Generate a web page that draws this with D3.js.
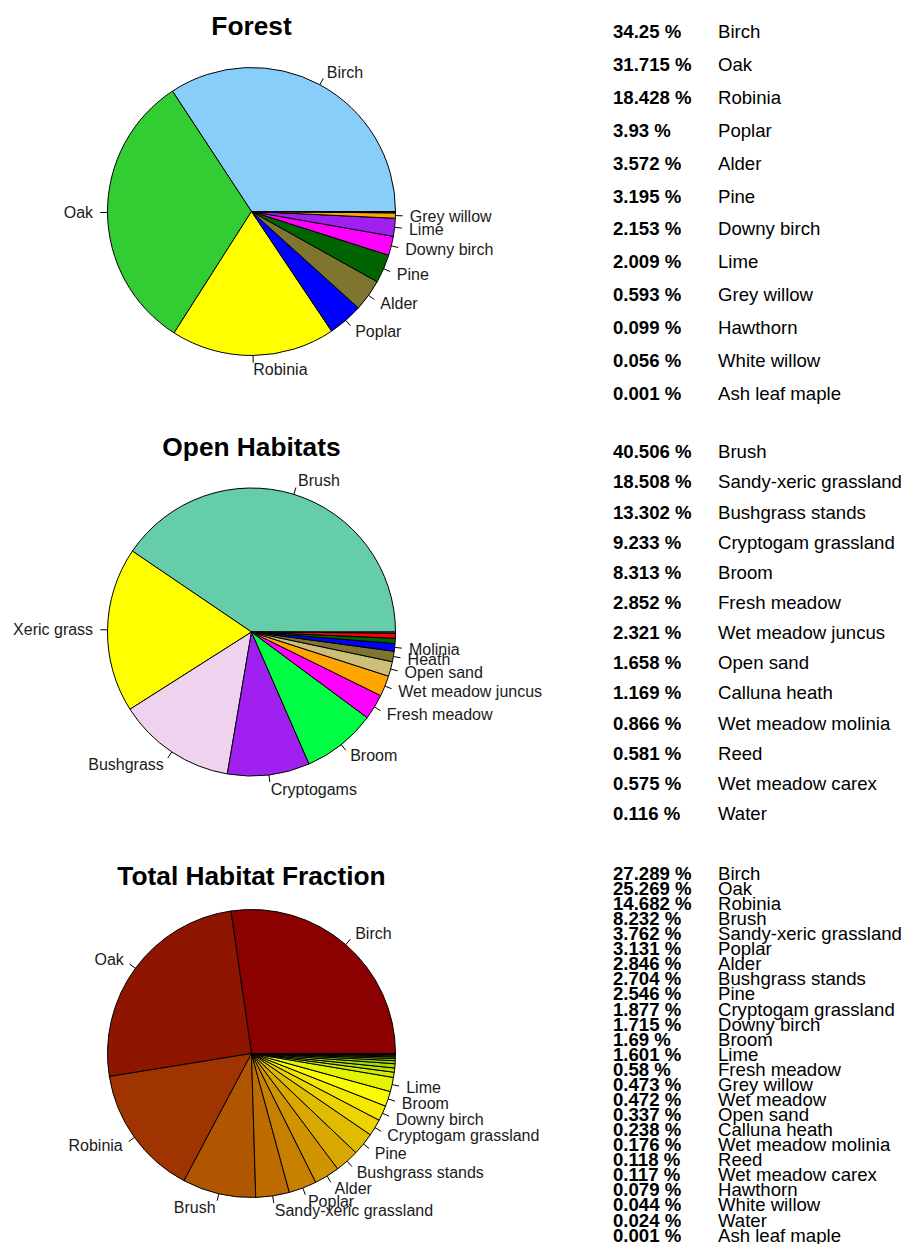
<!DOCTYPE html>
<html>
<head>
<meta charset="utf-8">
<script src="https://cdn.jsdelivr.net/npm/d3@7"></script>
<style>
  html, body { margin: 0; padding: 0; background: #ffffff; }
  svg { display: block; font-family: "Liberation Sans", Arial, Helvetica, sans-serif; }
</style>
</head>
<body>
<svg id="chart" width="904" height="1244"></svg>
<script>
// ---------------- DATA ----------------
// Forest
const forestNames = ["Birch","Oak","Robinia","Poplar","Alder","Pine","Downy birch","Lime","Grey willow","Hawthorn","White willow","Ash leaf maple"];
const forestValues = [34.25,31.715,18.428,3.93,3.572,3.195,2.153,2.009,0.593,0.099,0.056,0.001];
const forestPieLabels = ["Birch","Oak","Robinia","Poplar","Alder","Pine","Downy birch","Lime","Grey willow","","",""];
const forestColors = ["#87CEFA","#32CD32","#FFFF00","#0000FF","#7D7530","#006400","#FF00FF","#A020F0","#FFA500","#8B4513","#00CED1","#808080"];

// Open habitats
const openNames = ["Brush","Sandy-xeric grassland","Bushgrass stands","Cryptogam grassland","Broom","Fresh meadow","Wet meadow juncus","Open sand","Calluna heath","Wet meadow molinia","Reed","Wet meadow carex","Water"];
const openValues = [40.506,18.508,13.302,9.233,8.313,2.852,2.321,1.658,1.169,0.866,0.581,0.575,0.116];
const openPieLabels = ["Brush","Xeric grass","Bushgrass","Cryptogams","Broom","Fresh meadow","Wet meadow juncus","Open sand","Heath","Molinia","","",""];
const openColors = ["#66CDAA","#FFFF00","#EED2EE","#A020F0","#00FF44","#FF00FF","#FFA500","#CDBF7A","#7D7530","#0000FF","#006400","#FF0000","#00BFFF"];

// Total habitat fraction
const totalNames = ["Birch","Oak","Robinia","Brush","Sandy-xeric grassland","Poplar","Alder","Bushgrass stands","Pine","Cryptogam grassland","Downy birch","Broom","Lime","Fresh meadow","Grey willow","Wet meadow","Open sand","Calluna heath","Wet meadow molinia","Reed","Wet meadow carex","Hawthorn","White willow","Water","Ash leaf maple"];
const totalValues = [27.289,25.269,14.682,8.232,3.762,3.131,2.846,2.704,2.546,1.877,1.715,1.69,1.601,0.58,0.473,0.472,0.337,0.238,0.176,0.118,0.117,0.079,0.044,0.024,0.001];
const totalPieLabels = ["Birch","Oak","Robinia","Brush","Sandy-xeric grassland","Poplar","Alder","Bushgrass stands","Pine","Cryptogam grassland","Downy birch","Broom","Lime","","","","","","","","","","","",""];
const totalColors = ["#8B0000","#8E1600","#A03400","#B05600","#BE6C00","#C88000","#D09400","#D8A800","#E0BC00","#ECD400","#F4E800","#FCFC00","#E4F400","#D0EC00","#BCE400","#A8DC00","#98D400","#88CC00","#78C400","#6CBC00","#60B400","#54AC00","#48A400","#3C9C00","#309400"];

// Panel titles
const titles = ["Forest","Open Habitats","Total Habitat Fraction"];

// ---------------- DRAW ----------------
const svg = d3.select("#chart");

const panels = [
  {title: titles[0], names: forestNames, values: forestValues, labels: forestPieLabels, colors: forestColors,
   cx: 251.5, cy: 211.5, titleY: 35, legendTop: 31.7, legendBottom: 393},
  {title: titles[1], names: openNames, values: openValues, labels: openPieLabels, colors: openColors,
   cx: 251.5, cy: 632, titleY: 456, legendTop: 451.7, legendBottom: 813.3},
  {title: titles[2], names: totalNames, values: totalValues, labels: totalPieLabels, colors: totalColors,
   cx: 251.5, cy: 1053.5, titleY: 885, legendTop: 873.3, legendBottom: 1235}
];

const R = 144;
const pctX = 613, nameX = 718;

panels.forEach(p => {
  const g = svg.append("g");

  // title
  g.append("text")
    .attr("x", p.cx).attr("y", p.titleY)
    .attr("text-anchor", "middle")
    .attr("font-size", 26.3).attr("font-weight", "bold")
    .attr("fill", "#000")
    .text(p.title);

  // pie (R style: start at 3 o'clock, counterclockwise)
  const pie = d3.pie().sort(null).value(d => d.v);
  const data = p.values.map((v, i) => ({v, i}));
  const arcs = pie(data);
  const arc = d3.arc().innerRadius(0).outerRadius(R);

  const pg = g.append("g").attr("transform", `translate(${p.cx},${p.cy})`);
  pg.selectAll("path.slice").data(arcs).join("path")
    .attr("class", "slice")
    .attr("d", d => arc({startAngle: Math.PI/2 - d.endAngle, endAngle: Math.PI/2 - d.startAngle}))
    .attr("fill", d => p.colors[d.data.i])
    .attr("stroke", "#000")
    .attr("stroke-width", 1)
    .attr("stroke-linejoin", "round");

  // labels with ticks
  arcs.forEach(d => {
    const lab = p.labels[d.data.i];
    if (!lab) return;
    const th = (d.startAngle + d.endAngle) / 2;
    const c = Math.cos(th), s = Math.sin(th);
    pg.append("line")
      .attr("x1", R * c).attr("y1", -R * s)
      .attr("x2", 1.05 * R * c).attr("y2", -1.05 * R * s)
      .attr("stroke", "#000").attr("stroke-width", 1);
    pg.append("text")
      .attr("x", 1.1 * R * c).attr("y", -1.1 * R * s + 5.6)
      .attr("text-anchor", c > 0 ? "start" : "end")
      .attr("font-size", 16)
      .attr("fill", "#1a1a1a")
      .text(lab);
  });

  // legend list
  const y = d3.scaleLinear().domain([0, p.names.length - 1]).range([p.legendTop, p.legendBottom]);
  const lg = g.append("g");
  p.names.forEach((n, i) => {
    lg.append("text")
      .attr("x", pctX).attr("y", y(i) + 6.6)
      .attr("font-size", 18.6).attr("font-weight", "bold")
      .attr("fill", "#000")
      .text(p.values[i] + " %");
    lg.append("text")
      .attr("x", nameX).attr("y", y(i) + 6.6)
      .attr("font-size", 18.6)
      .attr("fill", "#000")
      .text(n);
  });
});
</script>
</body>
</html>
